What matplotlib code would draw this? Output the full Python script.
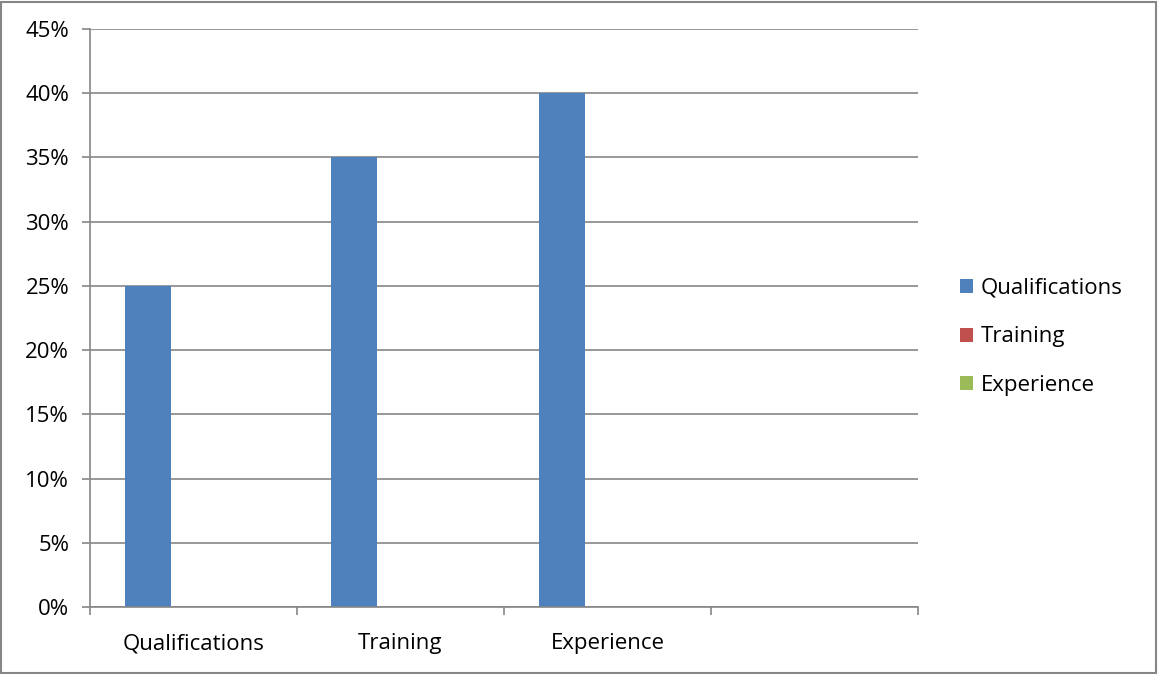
import numpy as np
import matplotlib.pyplot as plt
import matplotlib.patches as patches
from matplotlib.ticker import FixedLocator, PercentFormatter

plt.rcParams['font.family'] = ['Open Sans', 'DejaVu Sans']

# data
categories = ['Qualifications', 'Training', 'Experience', '']
series_names = ['Qualifications', 'Training', 'Experience']
qualifications = [0.25, 0.35, 0.40, np.nan]
training = [np.nan, np.nan, np.nan, np.nan]
experience = [np.nan, np.nan, np.nan, np.nan]
colors = ['#4F81BD', '#C0504D', '#9BBB59']

fig = plt.figure(figsize=(11.58, 6.74), dpi=100)
ax = fig.add_axes([90/1158, 1 - 607/674, (918 - 90)/1158, (607 - 29)/674])

# clustered bars, gap width 150%
bw = 1 / 4.5
x = np.arange(len(categories))
handles = []
for i, (vals, name) in enumerate(zip([qualifications, training, experience], series_names)):
    pos = x - 0.5 + 0.75*bw + (i + 0.5)*bw
    h = ax.bar(pos, vals, width=bw, color=colors[i], label=name)
    handles.append(h)

ax.set_xlim(-0.5, len(categories) - 0.5)
ax.set_ylim(0, 0.45)
ax.set_yticks(np.arange(0, 0.451, 0.05))
ax.yaxis.set_major_formatter(PercentFormatter(1.0, decimals=0))
ax.yaxis.grid(True, color='#868686', linewidth=1.2)
ax.set_axisbelow(True)

# category boundaries as ticks, labels in the middle
ax.xaxis.set_major_locator(FixedLocator(np.arange(-0.5, len(categories), 1.0)))
ax.xaxis.set_minor_locator(FixedLocator(x))
ax.set_xticklabels([])
ax.set_xticklabels(categories, minor=True)
ax.tick_params(axis='x', which='major', length=6, width=1.2, color='#868686')
ax.tick_params(axis='x', which='minor', length=0, pad=19, labelsize=16)
ax.tick_params(axis='y', length=6, width=1.2, color='#868686', pad=9, labelsize=16)

for s in ['top', 'right']:
    ax.spines[s].set_visible(False)
for s in ['left', 'bottom']:
    ax.spines[s].set_color('#868686')
    ax.spines[s].set_linewidth(1.2)

fig.legend(handles=handles, labels=series_names, loc='center left',
           bbox_to_anchor=(960/1158, 1 - 337/674), frameon=False, fontsize=16,
           handlelength=0.6, handleheight=0.6, handletextpad=0.35, labelspacing=1.25,
           borderpad=0, borderaxespad=0)

# outer chart border
fig.patches.append(patches.Rectangle((0.001, 0.0015), 0.997, 0.996, transform=fig.transFigure,
                                     fill=False, edgecolor='#868686', linewidth=1.5))

fig.savefig('out.png', dpi=100)
